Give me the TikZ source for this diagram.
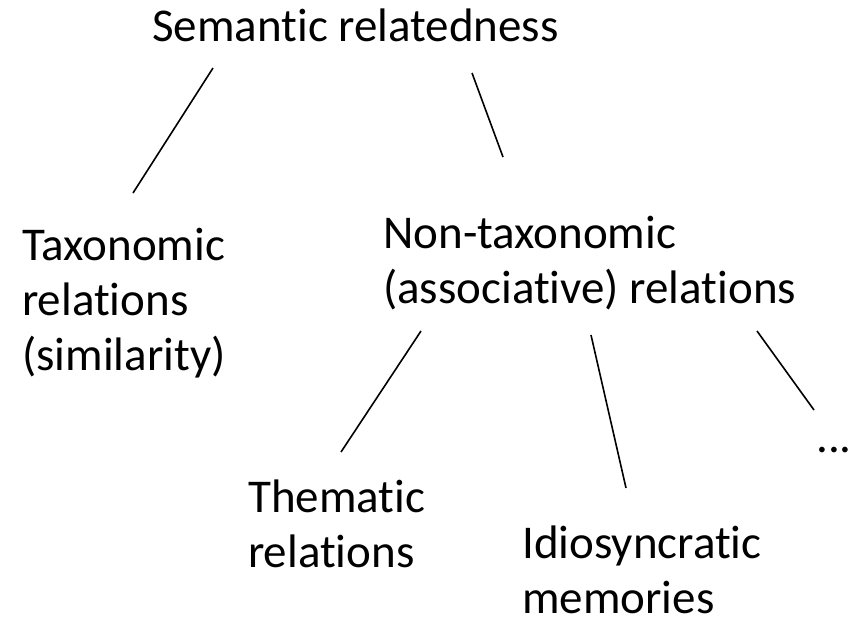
\documentclass[tikz,border=0pt]{standalone}
\usepackage{fontspec}
\setmainfont[Ligatures=NoCommon]{Carlito}
\begin{document}
\begin{tikzpicture}[x=1pt,y=-1pt,
  label/.style={inner sep=0pt, anchor=base west, align=left,
    font=\fontsize{47}{55}\selectfont},
  link/.style={line width=1.6pt, black}]
\useasboundingbox (0,0) rectangle (851,622);
% concept labels (anchored at the baseline of their last line)
\node[label] (sem) at (152,41) {Semantic relatedness};
\node[label] (tax) at (22,370) {Taxonomic\\relations\\(similarity)};
\node[label] (non) at (383,303) {Non-taxonomic\\(associative) relations};
\node[label] (the) at (248,567) {Thematic\\relations};
\node[label] (idi) at (522,613) {Idiosyncratic\\memories};
\node[label] (etc) at (816,452) {...};
% free ends of the tree branches
\coordinate (s1) at (213,68);  \coordinate (t1) at (133,193);
\coordinate (s2) at (472,73);  \coordinate (n1) at (503,157);
\coordinate (n2) at (421,331); \coordinate (h1) at (341,452);
\coordinate (n3) at (591,335); \coordinate (i1) at (626,488);
\coordinate (n4) at (757,331); \coordinate (e1) at (814,410);
\draw[link] (s1) -- (t1);
\draw[link] (s2) -- (n1);
\draw[link] (n2) -- (h1);
\draw[link] (n3) -- (i1);
\draw[link] (n4) -- (e1);
\end{tikzpicture}
\end{document}
